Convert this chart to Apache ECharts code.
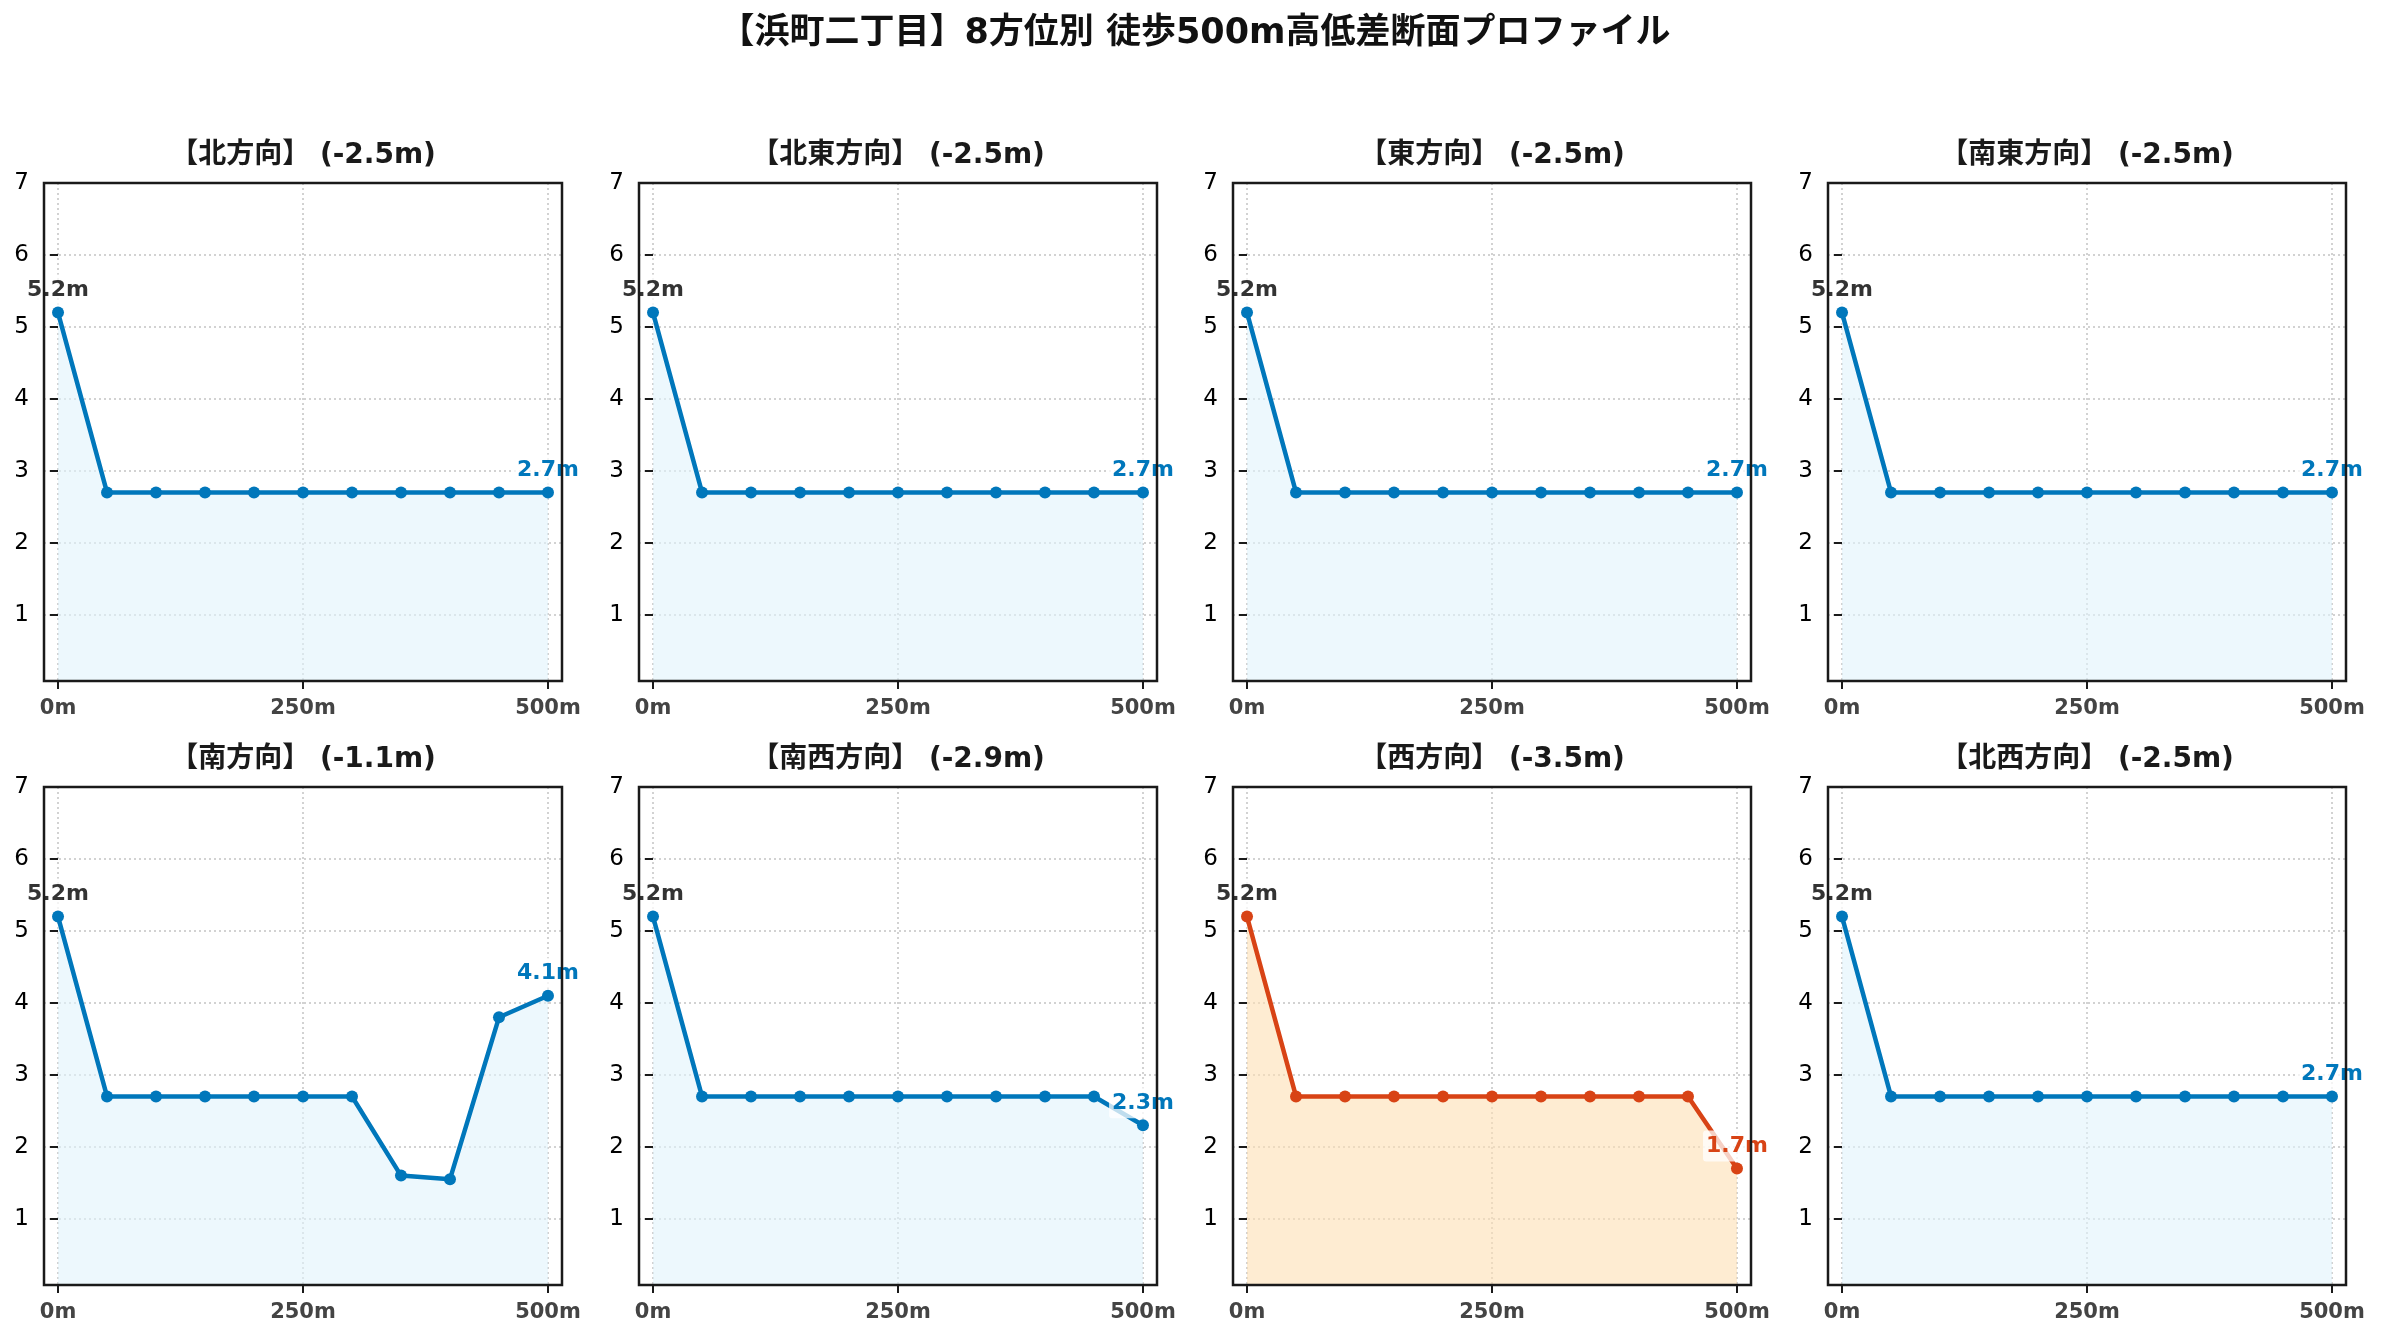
<!DOCTYPE html>
<html>
<head>
<meta charset="utf-8">
<script src="https://cdn.jsdelivr.net/npm/echarts@6/dist/echarts.min.js"></script>
<style>
html,body{margin:0;padding:0;background:#fff;}
#c{width:2381px;height:1340px;}
</style>
</head>
<body>
<div id="c"></div>
<script>
const mainTitle = '【浜町二丁目】8方位別 徒歩500m高低差断面プロファイル';
const distances = [0, 50, 100, 150, 200, 250, 300, 350, 400, 450, 500];
const directions = ['北方向', '北東方向', '東方向', '南東方向', '南方向', '南西方向', '西方向', '北西方向'];
const elevN  = [5.2, 2.7, 2.7, 2.7, 2.7, 2.7, 2.7, 2.7, 2.7, 2.7, 2.7];
const elevNE = [5.2, 2.7, 2.7, 2.7, 2.7, 2.7, 2.7, 2.7, 2.7, 2.7, 2.7];
const elevE  = [5.2, 2.7, 2.7, 2.7, 2.7, 2.7, 2.7, 2.7, 2.7, 2.7, 2.7];
const elevSE = [5.2, 2.7, 2.7, 2.7, 2.7, 2.7, 2.7, 2.7, 2.7, 2.7, 2.7];
const elevS  = [5.2, 2.7, 2.7, 2.7, 2.7, 2.7, 2.7, 1.6, 1.55, 3.8, 4.1];
const elevSW = [5.2, 2.7, 2.7, 2.7, 2.7, 2.7, 2.7, 2.7, 2.7, 2.7, 2.3];
const elevW  = [5.2, 2.7, 2.7, 2.7, 2.7, 2.7, 2.7, 2.7, 2.7, 2.7, 1.7];
const elevNW = [5.2, 2.7, 2.7, 2.7, 2.7, 2.7, 2.7, 2.7, 2.7, 2.7, 2.7];
const profiles = [elevN, elevNE, elevE, elevSE, elevS, elevSW, elevW, elevNW];
const diffs = ['-2.5', '-2.5', '-2.5', '-2.5', '-1.1', '-2.9', '-3.5', '-2.5'];
const xTickValues = [0, 250, 500];
const yTickValues = [1, 2, 3, 4, 5, 6, 7];

const lefts = [44, 639, 1233, 1828];
const tops = [183, 787];
const W = 518, H = 498;
const FONT = '"DejaVu Sans", "Noto Sans CJK JP", sans-serif';

const blue = '#0077BB', blueFill = 'rgba(225,243,252,0.6)';
const red = '#D84315', redFill = 'rgba(253,223,180,0.6)';

const grids = [], xAxes = [], yAxes = [], series = [], graphics = [];
graphics.push({
  type: 'text',
  x: 1195, y: 34,
  style: { text: mainTitle, x: 0, y: 0, textAlign: 'center', textVerticalAlign: 'middle',
    font: 'bold 35px ' + FONT, fill: '#111' },
  silent: true
});

profiles.forEach((vals, k) => {
  const r = Math.floor(k / 4), c = k % 4;
  const isW = k === 6;
  const col = isW ? red : blue;
  const fill = isW ? redFill : blueFill;
  grids.push({ left: lefts[c], top: tops[r], width: W, height: H, show: true, z: 10,
    borderColor: '#1a1a1a', borderWidth: 2.5, backgroundColor: 'transparent', containLabel: false });
  xAxes.push({
    type: 'value', gridIndex: k, min: -14.3, max: 514.3,
    axisLine: { show: false },
    axisTick: { show: true, customValues: xTickValues, length: 8, lineStyle: { color: '#1a1a1a', width: 2 } },
    axisLabel: { customValues: xTickValues, formatter: v => v + 'm', margin: 17,
      fontFamily: FONT, fontWeight: 'bold', fontSize: 21, color: '#444' },
    splitLine: { show: true, lineStyle: { color: '#c4c4c4', width: 1.5, type: [2, 3] } }
  });
  yAxes.push({
    type: 'value', gridIndex: k, min: 0.08, max: 7,
    axisLine: { show: false },
    axisTick: { show: true, customValues: yTickValues, length: 8, lineStyle: { color: '#1a1a1a', width: 2 } },
    axisLabel: { customValues: yTickValues, margin: 15, fontFamily: FONT, fontSize: 23, color: '#000' },
    splitLine: { show: true, lineStyle: { color: '#c4c4c4', width: 1.5, type: [2, 3] } }
  });
  const labelBase = { show: true, position: 'top', distance: 1, fontFamily: FONT, fontWeight: 'bold',
    fontSize: 22, backgroundColor: 'rgba(255,255,255,0.75)', padding: [5, 3, 4, 3], borderRadius: 3 };
  const data = vals.map((v, i) => {
    const item = { value: [distances[i], v] };
    if (i === 0) item.label = Object.assign({}, labelBase, { color: '#333', formatter: v.toFixed(1) + 'm' });
    else if (i === vals.length - 1) item.label = Object.assign({}, labelBase, { color: col, formatter: v.toFixed(1) + 'm' });
    return item;
  });
  series.push({
    type: 'line', xAxisIndex: k, yAxisIndex: k, data: data,
    symbol: 'circle', symbolSize: 12, showAllSymbol: true,
    lineStyle: { color: col, width: 4.5 }, itemStyle: { color: col },
    areaStyle: { color: fill, origin: 'start', opacity: 1 },
    label: { show: false }, emphasis: { disabled: true }, silent: true
  });
  graphics.push({
    type: 'text', x: lefts[c] + W / 2, y: tops[r] - 27,
    style: { text: '【' + directions[k] + '】 (' + diffs[k] + 'm)', x: 0, y: 0, textAlign: 'center',
      textVerticalAlign: 'middle', font: 'bold 28px ' + FONT, fill: '#1a1a1a' },
    silent: true
  });
});

const chart = echarts.init(document.getElementById('c'));
chart.setOption({
  animation: false,
  backgroundColor: '#fff',
  grid: grids, xAxis: xAxes, yAxis: yAxes, series: series,
  graphic: graphics
});
</script>
</body>
</html>
